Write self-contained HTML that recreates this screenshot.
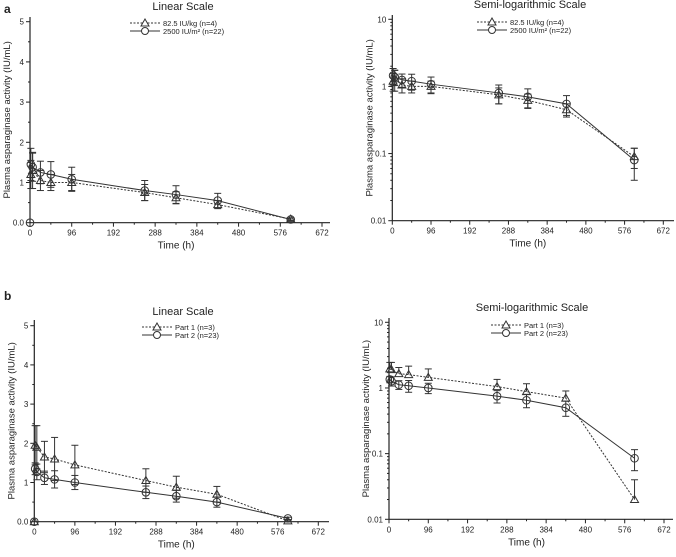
<!DOCTYPE html>
<html><head><meta charset="utf-8"><style>
body{margin:0;background:#fff;width:676px;height:552px;overflow:hidden;font-family:"Liberation Sans",sans-serif}
svg text{font-family:"Liberation Sans",sans-serif;fill:#222}
</style></head><body>
<svg id="c" width="676" height="552"></svg>
<script>
const times=[0,2,6,24,48,96,264,336,432,600];
const xTicks=[0,96,192,288,384,480,576,672];
const linTicks=[0,1,2,3,4,5];
const linTickLabels=["0.0","1","2","3","4","5"];
const logTicks=[0.01,0.1,1,10];
const logTickLabels=["0.01","0.1","1","10"];
const aDoseKg=[null,1.2,1.3,1.05,1.0,1.0,0.75,0.62,0.45,0.09];
const aDoseKgSD=[0,0.35,0.45,0.25,0.2,0.2,0.2,0.15,0.1,0.03];
const aDoseM2=[0,1.45,1.38,1.25,1.2,1.08,0.8,0.7,0.55,0.08];
const aDoseM2SD=[0,0.4,0.35,0.28,0.32,0.3,0.25,0.22,0.18,0.04];
const bPart1=[0,1.95,1.9,1.65,1.6,1.45,1.05,0.88,0.7,0.02];
const bPart1SD=[0,0.5,0.55,0.4,0.55,0.5,0.3,0.28,0.2,0.02];
const bPart2=[0,1.35,1.27,1.12,1.08,1.0,0.75,0.65,0.5,0.085];
const bPart2SD=[0,0.15,0.2,0.17,0.22,0.18,0.16,0.15,0.13,0.03];
const NS="http://www.w3.org/2000/svg";
const svg=document.getElementById('c');
function el(t,a,p){const e=document.createElementNS(NS,t);for(const k in a)e.setAttribute(k,a[k]);(p||svg).appendChild(e);return e;}
function panel(o){
 const g=el('g',{});
 
 
 const X=t=>o.x0+(t/672)*(o.x1-o.x0);
 const Y=o.log?(v=>o.y0+(Math.log10(v)+2)/3*(o.y1-o.y0)):(v=>o.y0+v/5*(o.y1-o.y0));
 el('line',{x1:o.x0,y1:o.y0,x2:o.xr,y2:o.y0,stroke:'#222','stroke-width':1.2},g);
 el('line',{x1:o.x0,y1:o.y0,x2:o.x0,y2:o.yt,stroke:'#222','stroke-width':1.2},g);
 for(let t=0;t<=672;t+=48){el('line',{x1:X(t),y1:o.y0,x2:X(t),y2:o.y0+(t%96?2:4),stroke:'#222'},g);}
 xTicks.forEach(t=>{const tx=el('text',{x:X(t),y:o.y0+13,'font-size':8,'text-anchor':'middle'},g);tx.textContent=t;});
 const yt=o.log?logTicks:linTicks, yl=o.log?logTickLabels:linTickLabels;
 yt.forEach((v,i)=>{const y=Y(v);el('line',{x1:o.x0-4,y1:y,x2:o.x0,y2:y,stroke:'#222'},g);
  const tx=el('text',{x:o.x0-6,y:y+3,'font-size':8,'text-anchor':'end'},g);tx.textContent=yl[i];});
 if(o.log){for(let d=-2;d<1;d++)for(let m=2;m<10;m++){const y=Y(m*Math.pow(10,d));el('line',{x1:o.x0-2,y1:y,x2:o.x0,y2:y,stroke:'#222'},g);}}
 else{for(let v=0.5;v<5;v+=1){el('line',{x1:o.x0-2,y1:Y(v),x2:o.x0,y2:Y(v),stroke:'#222'},g);}}
 const tt=el('text',{x:o.tx,y:o.ty,'font-size':11,'text-anchor':'middle'},g);tt.textContent=o.title;
 const xl=el('text',{x:(o.x0+o.x1)/2,y:o.y0+26,'font-size':10,'text-anchor':'middle'},g);xl.textContent='Time (h)';
 const cy=(o.y0+o.yt)/2;
 const yl2=el('text',{x:o.x0-20,y:cy,'font-size':9.5,'text-anchor':'middle',transform:`rotate(-90 ${o.x0-20} ${cy})`},g);yl2.textContent='Plasma asparaginase activity (IU/mL)';
 o.series.forEach((s,si)=>{
  const sg=el('g',{},g);
  
  
  const pts=[];
  times.forEach((t,i)=>{const v=s.vals[i];if(v==null)return;if(o.log&&v<=0)return;if(!o.log&&t===0&&v===0){pts.push(null);return;}pts.push([X(t),Y(v),i]);});
  const valid=pts.filter(p=>p);
  el('polyline',{points:valid.map(p=>p[0]+','+p[1]).join(' '),fill:'none',stroke:'#333','stroke-width':1,'stroke-dasharray':s.tri?'2,1.5':''},sg);
  times.forEach((t,i)=>{const v=s.vals[i];if(v==null)return;if(o.log&&v<=0)return;
   const x=X(t),y=Y(v),sd=s.sd[i];
   if(sd>0){const hi=Y(v+sd);const lo=o.log?(s.upOnly?y:Y(Math.max(v-sd,v*0.3))):(s.upOnly?y:Y(Math.max(v-sd,0)));
    el('line',{x1:x,y1:hi,x2:x,y2:lo,stroke:'#333'},sg);
    el('line',{x1:x-3.5,y1:hi,x2:x+3.5,y2:hi,stroke:'#333'},sg);
    if(!s.upOnly)el('line',{x1:x-3.5,y1:lo,x2:x+3.5,y2:lo,stroke:'#333'},sg);}
   const m=s.tri?el('polygon',{points:`${x},${y-4} ${x-4},${y+3} ${x+4},${y+3}`,fill:'none',stroke:'#333'},sg):el('circle',{cx:x,cy:y,r:3.8,fill:'none',stroke:'#333'},sg);
   
   
  });
 });
 o.series.forEach((s,si)=>{
  const ly=o.ly+si*8, lx=o.lx;
  const lg=el('g',{},g);
  
  
  el('line',{x1:lx,y1:ly,x2:lx+30,y2:ly,stroke:'#333','stroke-dasharray':s.tri?'2,1.5':''},lg);
  const x=lx+15;
  if(s.tri)el('polygon',{points:`${x},${ly-4} ${x-4},${ly+3} ${x+4},${ly+3}`,fill:'#fff',stroke:'#333'},lg);
  else el('circle',{cx:x,cy:ly,r:3.5,fill:'#fff',stroke:'#333'},lg);
  const tx=el('text',{x:lx+33,y:ly+3,'font-size':7.5},lg);tx.textContent=s.label;
 });
}
panel({name:'panel-a-linear',log:false,x0:30,x1:322,xr:330,y0:222.7,y1:21.7,yt:17,title:'Linear Scale',tx:183,ty:10,lx:130,ly:23,
 series:[{key:'series-82-5-iu-kg',label:'82.5 IU/kg (n=4)',tri:true,vals:aDoseKg,sd:aDoseKgSD},{key:'series-2500-iu-m2',label:'2500 IU/m² (n=22)',tri:false,vals:aDoseM2,sd:aDoseM2SD}]});
panel({name:'panel-a-semilog',log:true,x0:392.3,x1:663.3,xr:674,y0:220.7,y1:19.3,yt:15,title:'Semi-logarithmic Scale',tx:530,ty:8,lx:477,ly:22,
 series:[{key:'series-82-5-iu-kg',label:'82.5 IU/kg (n=4)',tri:true,vals:aDoseKg,sd:aDoseKgSD},{key:'series-2500-iu-m2',label:'2500 IU/m² (n=22)',tri:false,vals:aDoseM2,sd:aDoseM2SD}]});
panel({name:'panel-b-linear',log:false,x0:34.3,x1:318.3,xr:329,y0:521.7,y1:325.7,yt:320,title:'Linear Scale',tx:183,ty:315,lx:142,ly:327,
 series:[{key:'series-part-1',label:'Part 1 (n=3)',tri:true,vals:bPart1,sd:bPart1SD},{key:'series-part-2',label:'Part 2 (n=23)',tri:false,vals:bPart2,sd:bPart2SD}]});
panel({name:'panel-b-semilog',log:true,x0:389,x1:664,xr:673,y0:519.3,y1:322.3,yt:318,title:'Semi-logarithmic Scale',tx:532,ty:311,lx:491,ly:325,
 series:[{key:'series-part-1',label:'Part 1 (n=3)',tri:true,upOnly:true,vals:bPart1,sd:bPart1SD},{key:'series-part-2',label:'Part 2 (n=23)',tri:false,vals:bPart2,sd:bPart2SD}]});
const la=el('text',{x:4,y:13,'font-size':12,'font-weight':'bold','font-family':'Liberation Serif'});la.textContent='a';


const lb=el('text',{x:4,y:300,'font-size':12,'font-weight':'bold','font-family':'Liberation Serif'});lb.textContent='b';


</script>
</body></html>
